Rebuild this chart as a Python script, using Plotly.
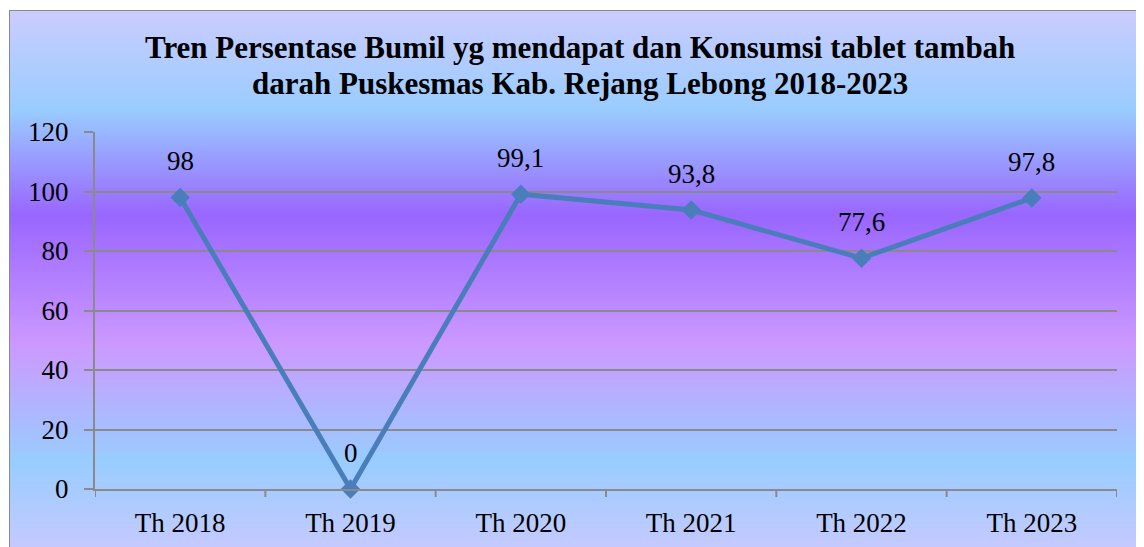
import plotly.graph_objects as go

categories = ["Th 2018", "Th 2019", "Th 2020", "Th 2021", "Th 2022", "Th 2023"]
values = [98, 0, 99.1, 93.8, 77.6, 97.8]
labels = [("%g" % v).replace(".", ",") for v in values]
y_ticks = [0, 20, 40, 60, 80, 100, 120]
title_lines = ["Tren Persentase Bumil yg mendapat dan Konsumsi tablet tambah",
               "darah Puskesmas Kab. Rejang Lebong 2018-2023"]

OFF = 8  # default page body margin
W, H = 1144 - OFF, 547 - OFF
L, R, T, B = 95 - OFF, 1144 - 1117, 132 - OFF, 547 - 489
pw, ph = W - L - R, H - T - B

def px_x(page_px):
    return (page_px - OFF - L) / pw

def px_y(page_py):
    return (547 - B - page_py) / ph

stops = [(10, (0xCC, 0xCC, 0xFF)), (110, (0x99, 0xCC, 0xFF)), (215, (0x99, 0x66, 0xFF)),
         (345, (0xCC, 0x99, 0xFF)), (460, (0x99, 0xCC, 0xFF)), (547, (0xC4, 0xCA, 0xFF))]

def color_at(py):
    for (a, ca), (b, cb) in zip(stops[:-1], stops[1:]):
        if a <= py <= b:
            t = (py - a) / (b - a)
            c = [round(ca[i] + (cb[i] - ca[i]) * t) for i in range(3)]
            return "rgb(%d,%d,%d)" % tuple(c)
    return "rgb(196,202,255)"

shapes = []
step = 2
for py in range(10, 547, step):
    shapes.append(dict(type="rect", xref="paper", yref="paper", layer="below",
                       x0=px_x(9), x1=px_x(1160),
                       y0=px_y(min(py + step + 1, 560)), y1=px_y(py),
                       fillcolor=color_at(py + step / 2), line=dict(width=0)))
shapes.append(dict(type="line", xref="paper", yref="paper", layer="below",
                   x0=px_x(9), x1=px_x(1160), y0=px_y(10.5), y1=px_y(10.5),
                   line=dict(color="#8a8a8a", width=1)))
shapes.append(dict(type="line", xref="paper", yref="paper", layer="below",
                   x0=px_x(9.5), x1=px_x(9.5), y0=px_y(10), y1=px_y(560),
                   line=dict(color="#8a8a8a", width=1)))

fig = go.Figure()
fig.add_trace(go.Scatter(
    x=categories, y=values, mode="lines+markers",
    line=dict(color="#4A7EBB", width=5),
    marker=dict(symbol="diamond", size=15, color="#4A7EBB"),
    cliponaxis=False, hoverinfo="skip"))

annotations = [dict(x=c, y=v, text=t, showarrow=False, yshift=36, xref="x", yref="y",
                    font=dict(family="Liberation Serif", size=27, color="black"))
               for c, v, t in zip(categories, values, labels)]
for line_text, center_py in zip(title_lines, [48, 83]):
    annotations.append(dict(text="<b>%s</b>" % line_text, showarrow=False,
                            xref="paper", yref="paper", x=px_x(580), y=px_y(center_py),
                            xanchor="center", yanchor="middle",
                            font=dict(family="Liberation Serif", size=31, color="black")))

fig.update_layout(
    width=W, height=H,
    margin=dict(l=L, r=R, t=T, b=B, autoexpand=False),
    paper_bgcolor="white", plot_bgcolor="rgba(0,0,0,0)",
    showlegend=False,
    shapes=shapes,
    annotations=annotations,
    xaxis=dict(range=[-0.5, 5.5], showgrid=False, showline=True, linecolor="#8a8a8a", linewidth=2,
               ticks="", ticklabelstandoff=9, automargin=False,
               tickfont=dict(family="Liberation Serif", size=27, color="black"),
               zeroline=False, fixedrange=True),
    yaxis=dict(range=[0, 120], tickvals=y_ticks, showgrid=True, gridcolor="#8a8a8a", gridwidth=2,
               showline=True, linecolor="#8a8a8a", linewidth=2, ticks="outside", ticklen=9,
               tickcolor="#8a8a8a", tickwidth=2, ticklabelstandoff=10, automargin=False,
               tickfont=dict(family="Liberation Serif", size=27, color="black"),
               zeroline=False, fixedrange=True),
)

for i in range(len(categories) + 1):
    fig.add_shape(type="line", xref="x", yref="paper", x0=i - 0.5, x1=i - 0.5,
                  y0=0, y1=-8 / ph, line=dict(color="#8a8a8a", width=2), layer="above")

fig.write_html("out.html")
